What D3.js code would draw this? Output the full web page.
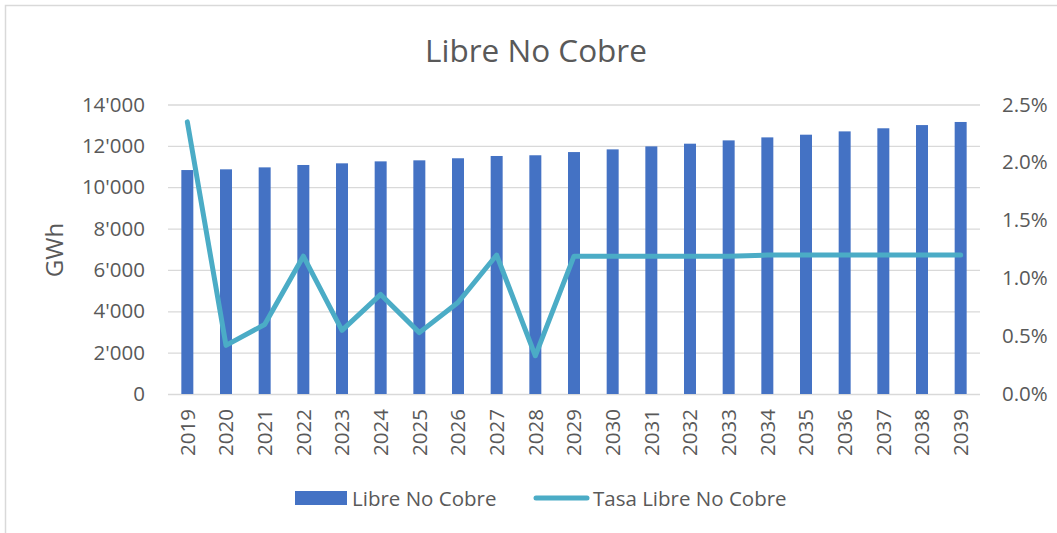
<!DOCTYPE html>
<html>
<head>
<meta charset="utf-8">
<script src="https://cdn.jsdelivr.net/npm/d3@7"></script>
<style>
  body { margin: 0; background: #fff; }
  text { font-family: "Open Sans", sans-serif; fill: #595959; }
</style>
</head>
<body>
<script>
// chart data
var years = ["2019","2020","2021","2022","2023","2024","2025","2026","2027","2028","2029",
             "2030","2031","2032","2033","2034","2035","2036","2037","2038","2039"];
var energia = [10830, 10865, 10960, 11075, 11155, 11250, 11300, 11400, 11510, 11545, 11700,
               11830, 11975, 12105, 12265, 12410, 12540, 12700, 12850, 13005, 13155];
var tasa = [0.0235, 0.0042, 0.0060, 0.0119, 0.0055, 0.0086, 0.0053, 0.0079, 0.0120, 0.0033, 0.0119,
            0.0119, 0.0119, 0.0119, 0.0119, 0.0120, 0.0120, 0.0120, 0.0120, 0.0120, 0.0120];
var leftTicks = [0, 2000, 4000, 6000, 8000, 10000, 12000, 14000];
var rightTicks = [0, 0.005, 0.01, 0.015, 0.02, 0.025];

var w = 1057;
var h = 533;
var pLeft = 168, pRight = 980, pTop = 104.5, pBottom = 394;
var tickFont = "20.5px";

var svg = d3.select("body")
            .append("svg")
            .attr("width", w)
            .attr("height", h);

// chart border
svg.append("rect")
   .attr("x", 5.5).attr("y", 5.5)
   .attr("width", 1200).attr("height", 700)
   .attr("fill", "none")
   .attr("stroke", "#d9d9d9")
   .attr("stroke-width", 1.5);

var x = d3.scaleBand()
          .domain(years)
          .range([pLeft, pRight])
          .paddingInner(0.69)
          .paddingOuter(0.345);

var y = d3.scaleLinear().domain([0, 14000]).range([pBottom, pTop]);
var y2 = d3.scaleLinear().domain([0, 0.025]).range([pBottom, pTop]);

var loc = d3.formatLocale({decimal: ".", thousands: "'", grouping: [3], currency: ["", ""]});

// gridlines + left axis
var gy = svg.append("g")
   .attr("transform", "translate(" + pLeft + ",0)")
   .call(d3.axisLeft(y).tickValues(leftTicks).tickFormat(loc.format(",")).tickSize(-(pRight - pLeft)).tickPadding(23));
gy.select(".domain").remove();
gy.selectAll("line").attr("stroke", "#d9d9d9").attr("stroke-width", 1.3);
gy.selectAll("text").attr("font-size", tickFont).attr("fill", "#595959").style("font-family", "'Open Sans', sans-serif");

// right axis
var gy2 = svg.append("g")
   .attr("transform", "translate(" + pRight + ",0)")
   .call(d3.axisRight(y2).tickValues(rightTicks).tickFormat(d3.format(".1%")).tickSize(0).tickPadding(22));
gy2.select(".domain").remove();
gy2.selectAll("text").attr("font-size", tickFont).attr("fill", "#595959").style("font-family", "'Open Sans', sans-serif");

// bars
svg.selectAll("rect.bar")
   .data(years)
   .enter()
   .append("rect")
   .attr("class", "bar")
   .attr("x", function(d) { return x(d); })
   .attr("y", function(d, i) { return y(energia[i]); })
   .attr("width", x.bandwidth())
   .attr("height", function(d, i) { return pBottom - y(energia[i]); })
   .attr("fill", "#4472c4");

// x axis labels
var gx = svg.append("g")
   .attr("transform", "translate(0," + pBottom + ")")
   .call(d3.axisBottom(x).tickSize(0));
gx.select(".domain").remove();
gx.selectAll("text")
  .attr("font-size", tickFont)
  .attr("fill", "#595959")
  .style("font-family", "'Open Sans', sans-serif")
  .attr("transform", "rotate(-90)")
  .attr("text-anchor", "end")
  .attr("x", -15)
  .attr("y", 0)
  .attr("dy", "0.35em");

// line
var line = d3.line()
   .x(function(d, i) { return x(years[i]) + x.bandwidth() / 2; })
   .y(function(d) { return y2(d); });

svg.append("path")
   .datum(tasa)
   .attr("d", line)
   .attr("fill", "none")
   .attr("stroke", "#4bacc6")
   .attr("stroke-width", 5)
   .attr("stroke-linejoin", "round")
   .attr("stroke-linecap", "round");

// title
svg.append("text")
   .attr("x", 536)
   .attr("y", 62)
   .attr("text-anchor", "middle")
   .attr("font-size", "31.5px")
   .text("Libre No Cobre");

// y label
svg.append("text")
   .attr("transform", "translate(63,250) rotate(-90)")
   .attr("text-anchor", "middle")
   .attr("font-size", "24px")
   .text("GWh");

// legend
svg.append("rect")
   .attr("x", 295).attr("y", 491)
   .attr("width", 52).attr("height", 14)
   .attr("fill", "#4472c4");
svg.append("text")
   .attr("x", 352).attr("y", 506)
   .attr("font-size", "20.5px")
   .text("Libre No Cobre");

svg.append("line")
   .attr("x1", 536).attr("x2", 587)
   .attr("y1", 498).attr("y2", 498)
   .attr("stroke", "#4bacc6")
   .attr("stroke-width", 5)
   .attr("stroke-linecap", "round");
svg.append("text")
   .attr("x", 593).attr("y", 506)
   .attr("font-size", "20.5px")
   .text("Tasa Libre No Cobre");
</script>
</body>
</html>
